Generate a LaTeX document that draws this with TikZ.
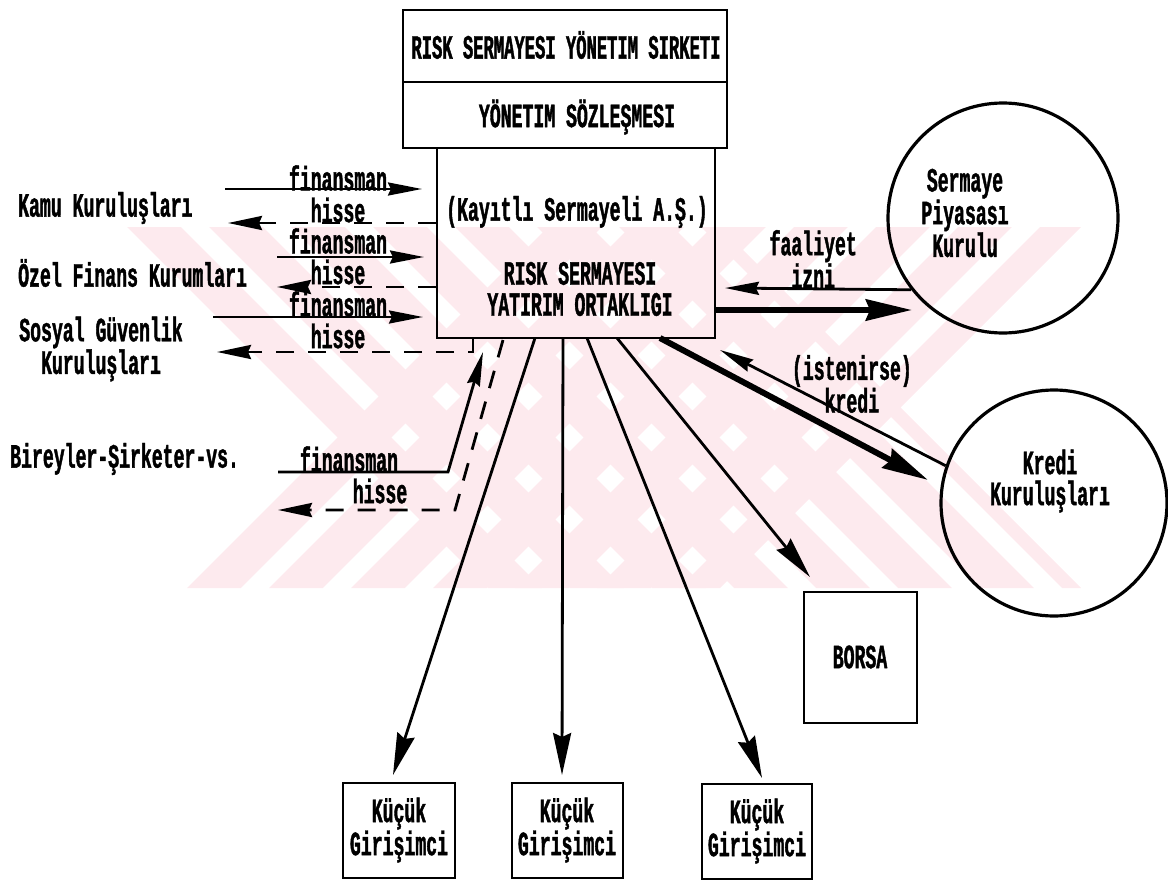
\documentclass[tikz,border=0pt]{standalone}
\usepackage{fontspec}
\usetikzlibrary{arrows.meta}
\newfontfamily\dm{Liberation Mono}[FakeStretch=0.534, FakeBold=1.2]
\newfontfamily\dmn{Liberation Mono}[FakeStretch=0.505, FakeBold=1.2]
\definecolor{wm}{RGB}{253,234,238}

\begin{document}
\begin{tikzpicture}[x=1pt,y=-1pt,
  txt/.style={font=\dm\bfseries\fontsize{34}{31}\selectfont, inner sep=0pt, align=center},
  frame/.style={draw, line width=2pt, inner sep=0pt},
  ring/.style={draw, circle, line width=3.2pt, inner sep=0pt},
  flow/.style={line width=2.8pt, -{Stealth[length=34pt,width=13pt,inset=3pt]}},
  back/.style={line width=2.8pt, dash pattern=on 18pt off 14pt, -{Stealth[length=34pt,width=14pt,inset=3pt]}},
  down/.style={line width=2.8pt, -{Stealth[length=42pt,width=18pt,inset=4pt]}},
  heavy/.style={line width=6pt, -{Stealth[length=46pt,width=21pt,inset=4pt]}},
  wmstripe/.style={draw=wm, line width=38pt}
]
\useasboundingbox (0,0) rectangle (1168,883);

% faint striped X in the background
\begin{scope}
  \clip (127,227) -- (720,227) -- (1081,588) -- (488,588) -- cycle;
  \foreach \c in {-73,9,...,560}
    \draw[wmstripe] ({\c+150},150) -- ({\c+650},650);
\end{scope}
\begin{scope}
  \clip (187,588) -- (720,588) -- (1081,227) -- (548,227) -- cycle;
  \foreach \c in {802,884,...,1360}
    \draw[wmstripe] ({\c-150},150) -- ({\c-650},650);
\end{scope}

% management company and the fund
\node[frame, minimum width=324pt, minimum height=72pt] (rsys) at (565,46) {};
\node[txt, font=\dmn\bfseries\fontsize{34}{31}\selectfont] (rsysT) at (566,45) {RISK SERMAYESI YÖNETIM SIRKETI};
\node[frame, minimum width=324pt, minimum height=66pt] (sozl) at (565,115) {};
\node[txt] (sozlT) at (577,117) {YÖNETIM SÖZLEŞMESI};
\node[frame, minimum width=278pt, minimum height=190pt] (rsyo) at (576,243) {};
\node[txt] (rsyoA) at (577,212) {(Kayıtlı Sermayeli A.Ş.)};
\node[txt] (rsyoB) at (580,289) {RISK SERMAYESI\\YATIRIM ORTAKLIGI};

% investors on the left
\node[txt, anchor=west] (kamu) at (18,208) {Kamu Kuruluşları};
\node[txt, anchor=west] (ozel) at (18,273) {Özel Finans Kurumları};
\node[txt] (sosyal) at (101,349) {Sosyal Güvenlik\\Kuruluşları};
\node[txt, anchor=west] (birey) at (10,459) {Bireyler-Şirketer-vs.};

% institutions on the right
\node[ring, minimum size=230pt] (spk) at (1003,218) {};
\node[txt] (spkT) at (965,213) {Sermaye\\Piyasası\\Kurulu};
\node[ring, minimum size=226pt] (kredi) at (1054,503) {};
\node[txt] (krediT) at (1050,481) {Kredi\\Kuruluşları};
\node[frame, txt, minimum width=113pt, minimum height=131pt] (borsa) at (860,657) {BORSA};

% entrepreneurs
\node[frame, txt, minimum width=112pt, minimum height=95pt] (kg1) at (399,830) {Küçük\\Girişimci};
\node[frame, txt, minimum width=111pt, minimum height=95pt] (kg2) at (567,830) {Küçük\\Girişimci};
\node[frame, txt, minimum width=110pt, minimum height=95pt] (kg3) at (757,831) {Küçük\\Girişimci};

% flow labels
\node[txt] (f1) at (338,178) {finansman};
\node[txt] (h1) at (338,210) {hisse};
\node[txt] (f2) at (338,241) {finansman};
\node[txt] (h2) at (338,272) {hisse};
\node[txt] (f3) at (338,304) {finansman};
\node[txt] (h3) at (338,336) {hisse};
\node[txt] (f4) at (349,459) {finansman};
\node[txt] (h4) at (380,491) {hisse};
\node[txt, anchor=east] (faal) at (857,259) {faaliyet\\izni};
\node[txt, anchor=east] (isten) at (912,384) {(istenirse)\\kredi};

% free ends of the connectors
\coordinate (f1a) at (225,189);  \coordinate (f1b) at (422,189);
\coordinate (h1b) at (228,223);
\coordinate (f2a) at (277,257);  \coordinate (f2b) at (424,257);
\coordinate (h2b) at (277,287);
\coordinate (f3a) at (213,317);  \coordinate (f3b) at (423,317);
\coordinate (h3k) at (473,352);  \coordinate (h3b) at (217,352);
\coordinate (f4a) at (278,472);  \coordinate (f4k) at (448,472);  \coordinate (f4b) at (483,352);
\coordinate (h4t) at (503,340);  \coordinate (h4k) at (455,510);  \coordinate (h4b) at (278,510);
\coordinate (faalB) at (725,288);
\coordinate (spkIn) at (912,310);
\coordinate (kredB) at (720,350);
\coordinate (krT) at (660,338);  \coordinate (kredIn) at (928,480);
\coordinate (k1t) at (535,338);  \coordinate (k1b) at (393,775);
\coordinate (k2t) at (563,338);  \coordinate (k2b) at (562,775);
\coordinate (k3t) at (587,338);  \coordinate (k3b) at (762,778);
\coordinate (bt) at (617,338);   \coordinate (bb) at (810,577);

% money in, shares out
\draw[flow] (f1a) -- (f1b);
\draw[back] (rsyo.west |- h1b) -- (h1b);
\draw[flow] (f2a) -- (f2b);
\draw[back] (rsyo.west |- h2b) -- (h2b);
\draw[flow] (f3a) -- (f3b);
\draw[back] (h3k |- rsyo.south) -- (h3k) -- (h3b);
\draw[flow] (f4a) -- (f4k) -- (f4b);
\draw[back] (h4t) -- (h4k) -- (h4b);

% board licence and credit
\draw[flow] (spk.218) -- (faalB);
\draw[heavy] (rsyo.east |- spkIn) -- (spkIn);
\draw[flow] (kredi.161) -- (kredB);
\draw[heavy] (krT) -- (kredIn);

% investments
\draw[down] (k1t) -- (k1b);
\draw[down] (k2t) -- (k2b);
\draw[down] (k3t) -- (k3b);
\draw[down] (bt) -- (bb);
\end{tikzpicture}
\end{document}
